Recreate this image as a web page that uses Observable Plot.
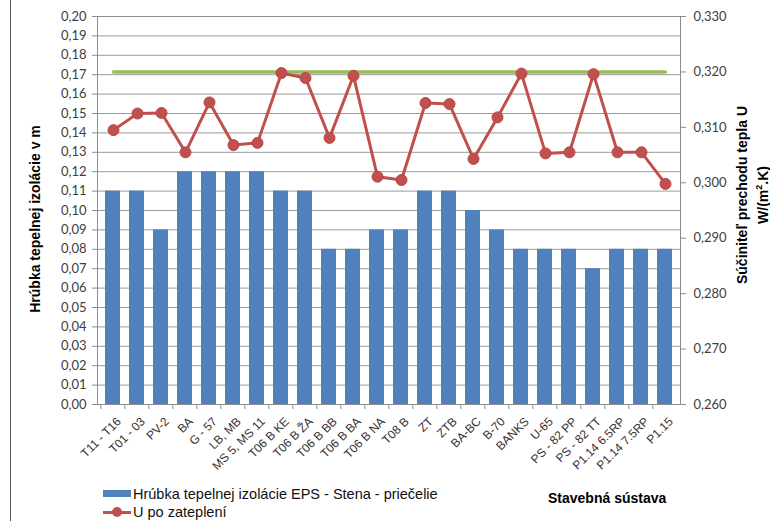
<!DOCTYPE html>
<html>
<head>
<meta charset="utf-8">
<script src="https://cdn.jsdelivr.net/npm/d3@7"></script>
<script src="https://cdn.jsdelivr.net/npm/@observablehq/plot@0.6"></script>
<style>
  html, body { margin: 0; padding: 0; background: #fff; }
  #chart { position: relative; width: 770px; height: 521px; overflow: hidden; }
  #chart svg { position: absolute; left: 0; top: 0; }
  .lbl { position: absolute; font-family: "Liberation Sans", Arial, sans-serif; color: #000; white-space: nowrap; }
  .title { font-weight: bold; font-size: 14px; }
  .vert { transform: translate(-50%, -50%) rotate(-90deg); text-align: center; line-height: 17px; }
  .leg { font-size: 14.5px; color: #111; line-height: 16px; }
</style>
</head>
<body>
<div id="chart"></div>
<script>
// Building systems (stavebné sústavy)
const categories = [
  "T11 - T16", "T01 - 03", "PV-2", "BA", "G - 57", "LB, MB", "MS 5, MS 11",
  "T06 B KE", "T06 B ŽA", "T06 B BB", "T06 B BA", "T06 B NA", "T08 B",
  "ZT", "ZTB", "BA-BC", "B-70", "BANKS", "U-65", "PS - 82 PP", "PS - 82 TT",
  "P1.14 6.5RP", "P1.14 7.5RP", "P1.15"
];

// EPS insulation thickness, facade walls [m]
const thickness = [
  0.11, 0.11, 0.09, 0.12, 0.12, 0.12, 0.12,
  0.11, 0.11, 0.08, 0.08, 0.09, 0.09,
  0.11, 0.11, 0.10, 0.09, 0.08, 0.08, 0.08, 0.07,
  0.08, 0.08, 0.08
];

// Heat transfer coefficient U after insulation [W/(m².K)]
const uAfter = [
  0.3095, 0.3125, 0.3126, 0.3055, 0.3145, 0.3068, 0.3072,
  0.3198, 0.3189, 0.3081, 0.3193, 0.3011, 0.3005,
  0.3144, 0.3142, 0.3043, 0.3118, 0.3197, 0.3053, 0.3055, 0.3196,
  0.3055, 0.3055, 0.2998
];

// Required U value (normative level)
const uRequired = 0.32;

// Axis tick values
const leftTicks = [0, 0.01, 0.02, 0.03, 0.04, 0.05, 0.06, 0.07, 0.08, 0.09, 0.10,
                   0.11, 0.12, 0.13, 0.14, 0.15, 0.16, 0.17, 0.18, 0.19, 0.20];
const rightTicks = [0.26, 0.27, 0.28, 0.29, 0.30, 0.31, 0.32, 0.33];

const rows = categories.map((c, i) => ({system: c, thickness: thickness[i], u: uAfter[i]}));

const W = 770, H = 521;
const M = {left: 97, right: 90, top: 16, bottom: 117};
const step = (W - M.left - M.right) / categories.length;
const comma = (d, n) => d.toFixed(n).replace(".", ",");

// Left scale: insulation thickness bars
const bars = Plot.plot({
  width: W, height: H,
  marginLeft: M.left, marginRight: M.right, marginTop: M.top, marginBottom: M.bottom,
  style: {background: "transparent", color: "#404040"},
  x: {domain: categories, paddingInner: 0.38, paddingOuter: 0.19, label: null},
  y: {domain: [0, 0.2], label: null},
  marks: [
    Plot.gridY(leftTicks, {stroke: "#9a9a9a", strokeOpacity: 1}),
    Plot.barY(rows, {x: "system", y: "thickness", fill: "#4F81BD"}),
    Plot.frame({stroke: "#8c8c8c"}),
    Plot.axisY(leftTicks, {
      anchor: "left", tickSize: 5, tickPadding: 6, stroke: "#8c8c8c",
      tickFormat: d => comma(d, 2), fontSize: 13, fontFamily: "Lato, sans-serif",
      fill: "#404040", label: null
    }),
    Plot.axisX({
      anchor: "bottom", tickSize: 0, tickPadding: 6, dx: 6, dy: 9, tickRotate: -45,
      fontSize: 12, fontFamily: "Liberation Sans, Arial, sans-serif", fill: "#333", label: null
    }),
    Plot.axisX({anchor: "bottom", text: null, tickSize: 5, dx: -step / 2, stroke: "#8c8c8c", label: null})
  ]
});

// Right scale: U values
const lines = Plot.plot({
  width: W, height: H,
  marginLeft: M.left, marginRight: M.right, marginTop: M.top, marginBottom: M.bottom,
  style: {background: "transparent", color: "#404040"},
  x: {type: "point", domain: categories, padding: 0.5, axis: null},
  y: {domain: [0.26, 0.33], label: null},
  marks: [
    Plot.line(rows, {x: "system", y: () => uRequired, stroke: "#9BBB59", strokeWidth: 3.5}),
    Plot.line(rows, {x: "system", y: "u", stroke: "#C0504D", strokeWidth: 3}),
    Plot.dot(rows, {x: "system", y: "u", r: 5.5, fill: "#C0504D", stroke: "#B8474A", strokeWidth: 1}),
    Plot.axisY(rightTicks, {
      anchor: "right", tickSize: 5, tickPadding: 8, stroke: "#8c8c8c",
      tickFormat: d => comma(d, 3), fontSize: 13, fontFamily: "Lato, sans-serif",
      fill: "#404040", label: null
    })
  ]
});

const root = document.getElementById("chart");
root.appendChild(bars);
root.appendChild(lines);

function addLabel(html, cls, css) {
  const el = document.createElement("div");
  el.className = "lbl " + cls;
  el.innerHTML = html;
  Object.assign(el.style, css);
  root.appendChild(el);
  return el;
}

// Chart border on the left
const border = document.createElement("div");
Object.assign(border.style, {position: "absolute", left: "10px", top: "0px", width: "1px", height: H + "px", background: "#555"});
root.appendChild(border);

// Axis titles
addLabel("Hrúbka tepelnej izolácie v m", "title vert", {left: "35px", top: "219px"});
addLabel("Súčiniteľ prechodu tepla U<br>W/(m<sup style=\"font-size:9px\">2</sup>.K)", "title vert", {left: "753px", top: "195px"});
addLabel("Stavebná sústava", "title", {left: "548px", top: "490px"});

// Legend
const sw1 = document.createElement("div");
Object.assign(sw1.style, {position: "absolute", left: "103px", top: "490px", width: "28px", height: "7px", background: "#4F81BD"});
root.appendChild(sw1);
addLabel("Hrúbka tepelnej izolácie EPS - Stena - priečelie", "leg", {left: "133px", top: "486px"});
const sw2 = document.createElement("div");
Object.assign(sw2.style, {position: "absolute", left: "103px", top: "511px", width: "28px", height: "3px", background: "#C0504D"});
root.appendChild(sw2);
const sw2dot = document.createElement("div");
Object.assign(sw2dot.style, {position: "absolute", left: "112px", top: "507px", width: "10px", height: "10px", borderRadius: "50%", background: "#C0504D"});
root.appendChild(sw2dot);
addLabel("U po zateplení", "leg", {left: "133px", top: "504px"});
</script>
</body>
</html>
